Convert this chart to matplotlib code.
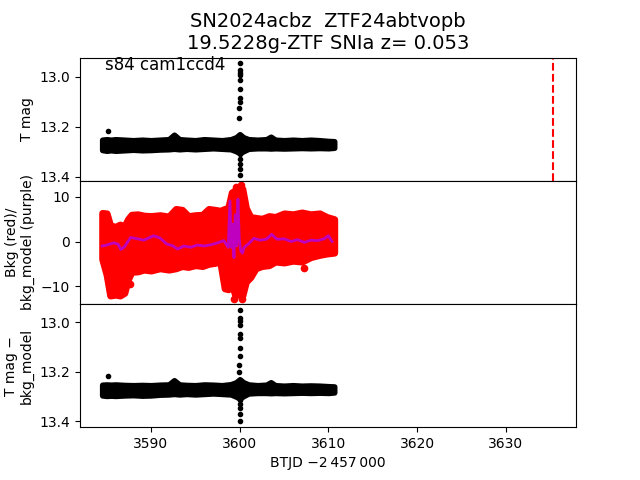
import matplotlib
matplotlib.use("Agg")
import matplotlib.pyplot as plt
import numpy as np

# ---- data ----
# Top panel (T mag): envelope of the dense photometry band
t_env = [3584.5, 3585.0, 3585.5, 3586.0, 3587.0, 3588.0, 3589.0, 3590.0, 3591.0, 3592.0,
         3592.6, 3593.2, 3594.0, 3595.0, 3596.0, 3597.0, 3598.0, 3599.0, 3599.6, 3600.0,
         3600.4, 3601.0, 3602.0, 3603.0, 3603.5, 3604.0, 3605.0, 3606.0, 3607.0, 3608.0,
         3609.0, 3610.0, 3610.65]
tmag_hi = [13.252, 13.250, 13.252, 13.250, 13.252, 13.254, 13.252, 13.254, 13.252, 13.250,
           13.232, 13.250, 13.252, 13.254, 13.250, 13.252, 13.254, 13.250, 13.242, 13.230,
           13.242, 13.250, 13.252, 13.250, 13.240, 13.252, 13.254, 13.252, 13.254, 13.252,
           13.254, 13.257, 13.258]
tmag_lo = [13.293, 13.296, 13.294, 13.296, 13.294, 13.292, 13.294, 13.293, 13.291, 13.290,
           13.288, 13.290, 13.288, 13.290, 13.288, 13.286, 13.288, 13.290, 13.298, 13.306,
           13.298, 13.288, 13.286, 13.286, 13.287, 13.286, 13.287, 13.286, 13.285, 13.286,
           13.285, 13.286, 13.284]
# isolated points (spike near 3600 and outlier)
spike_t = [3585.15, 3600.02, 3599.98, 3600.03, 3600.05, 3600.00, 3599.98, 3600.02, 3600.00,
           3599.95, 3599.92, 3600.05, 3600.03, 3600.00, 3600.02, 3600.00]
spike_top = [13.216, 12.946, 12.972, 12.985, 12.995, 13.012, 13.050, 13.085, 13.100,
             13.125, 13.165, 13.310, 13.330, 13.350, 13.370, 13.394]

# Bottom panel (T mag - bkg_model)
corr_hi = [13.252, 13.251, 13.252, 13.251, 13.253, 13.254, 13.253, 13.254, 13.252, 13.251,
           13.234, 13.251, 13.253, 13.254, 13.251, 13.252, 13.254, 13.250, 13.242, 13.230,
           13.242, 13.251, 13.254, 13.252, 13.242, 13.254, 13.256, 13.254, 13.256, 13.255,
           13.256, 13.258, 13.259]
corr_lo = [13.295, 13.297, 13.296, 13.297, 13.295, 13.294, 13.296, 13.295, 13.292, 13.291,
           13.289, 13.291, 13.289, 13.291, 13.289, 13.287, 13.289, 13.291, 13.300, 13.308,
           13.298, 13.287, 13.285, 13.285, 13.286, 13.285, 13.286, 13.285, 13.284, 13.285,
           13.284, 13.285, 13.283]
spike_corr = [13.218, 12.952, 12.985, 12.995, 13.012, 13.046, 13.062, 13.103, 13.137,
              13.173, 13.200, 13.315, 13.330, 13.347, 13.368, 13.400]

# Middle panel: background (red) envelope and background model (purple)
bk_t = [3584.5, 3585.0, 3585.4, 3586.0, 3586.5, 3587.0, 3587.4, 3587.8, 3588.5, 3589.2,
        3590.0, 3591.0, 3592.0, 3592.8, 3593.5, 3594.2, 3595.0, 3595.8, 3596.5, 3597.2,
        3597.8, 3598.3, 3598.7, 3599.1, 3599.5, 3599.9, 3600.3, 3600.7, 3601.2, 3601.8,
        3602.5, 3603.3, 3604.0, 3605.0, 3606.0, 3607.0, 3608.0, 3609.0, 3609.8, 3610.65]
bk_hi = [6.4, 6.3, 3.6, 3.3, 3.8, 3.4, 5.0, 6.0, 6.1, 5.8,
         5.7, 5.9, 5.6, 7.3, 7.1, 5.7, 5.9, 6.0, 7.3, 7.1,
         6.9, 7.3, 7.5, 11.0, 11.5, 12.0, 11.8, 7.5, 5.5, 5.3,
         5.1, 5.7, 5.5, 6.3, 6.1, 6.5, 6.1, 6.3, 5.5, 5.0]
bk_lo = [-3.9, -7.5, -12.1, -11.9, -12.1, -11.5, -8.5, -6.8, -6.7, -6.3,
         -6.5, -6.0, -6.3, -6.0, -5.5, -5.7, -5.3, -5.5, -5.0, -4.8,
         -4.5, -10.5, -10.7, -9.5, -12.1, -11.8, -12.1, -9.0, -8.0, -6.0,
         -5.5, -5.3, -4.5, -4.7, -4.3, -4.5, -3.5, -3.0, -2.7, -2.5]
bm_t = [3584.5, 3585.0, 3585.8, 3586.3, 3586.6, 3587.0, 3587.7, 3588.5, 3589.2, 3590.3,
        3591.0, 3591.8, 3592.4, 3593.0, 3593.7, 3594.5, 3595.2, 3596.0, 3596.8, 3597.5,
        3598.2, 3598.7, 3598.9, 3599.05, 3599.2, 3599.35, 3599.5, 3599.65, 3599.8, 3599.95,
        3600.1, 3600.3, 3600.5, 3601.0, 3601.6, 3602.3, 3603.0, 3603.6, 3604.2, 3605.0,
        3605.8, 3606.5, 3607.3, 3608.0, 3608.8, 3609.5, 3610.0, 3610.4]
bm_v = [-1.0, -0.8, -0.3, -0.6, -1.8, -1.2, 0.9, 0.6, 0.3, 1.3,
        0.8, -0.6, -0.9, -1.7, -1.0, -1.3, -0.8, -1.0, -0.7, -0.3,
        0.2, -1.3, 9.1, -1.3, 3.9, -3.6, 6.0, -1.0, 9.5, 0.5,
        -2.0, -2.6, -1.3, -0.5, 0.7, 0.3, 0.5, 1.6, 0.5, 0.6,
        0.0, 0.4, -0.2, 0.3, 0.2, 0.6, 1.3, 0.0]
bk_out_t = [3599.4, 3600.3, 3599.6, 3600.1, 3607.3, 3587.6]
bk_out_v = [-12.8, -12.9, 12.3, 12.6, -6.0, -9.5]

peak_time = 3635.3

title = "SN2024acbz  ZTF24abtvopb\n19.5228g-ZTF SNIa z= 0.053"
sector_label = "s84 cam1ccd4"

# ---- plot ----
fig, axes = plt.subplots(3, 1, sharex=True, figsize=(6.4, 4.8), dpi=100)
fig.subplots_adjust(hspace=0)
ax1, ax2, ax3 = axes

# top
ax1.fill_between(t_env, tmag_hi, tmag_lo, facecolor='k', edgecolor='k', lw=4,
                 joinstyle='round', capstyle='round')
ax1.plot(spike_t, spike_top, 'k.')
ax1.axvline(peak_time, color='r', ls='--', lw=1.5)
ax1.set_ylim(13.416, 12.924)
ax1.set_yticks([13.0, 13.2, 13.4])
ax1.set_ylabel("T mag")
ax1.text(0.05, 0.9, sector_label, transform=ax1.transAxes, fontsize=12)
ax1.set_title(title, fontsize=14)

# middle
ax2.fill_between(bk_t, bk_lo, bk_hi, facecolor='r', edgecolor='r', lw=5,
                 joinstyle='round', capstyle='round')
ax2.plot(bk_out_t, bk_out_v, 'o', color='r', ms=4.5)
ax2.plot(bm_t, bm_v, color='m', lw=2)
ax2.set_ylim(-14.0, 13.6)
ax2.set_yticks([-10, 0, 10])
ax2.set_ylabel("Bkg (red)/\nbkg_model (purple)")

# bottom
ax3.fill_between(t_env, corr_hi, corr_lo, facecolor='k', edgecolor='k', lw=4,
                 joinstyle='round', capstyle='round')
ax3.plot(spike_t, spike_corr, 'k.')
ax3.set_ylim(13.423, 12.927)
ax3.set_yticks([13.0, 13.2, 13.4])
ax3.set_ylabel("T mag \u2212\nbkg_model")

ax3.set_xlim(3582.0, 3637.9)
ax3.set_xticks([3590, 3600, 3610, 3620, 3630])
ax3.set_xlabel("BTJD \u22122\u2009457\u2009000")

fig.savefig("out.png", dpi=100)
